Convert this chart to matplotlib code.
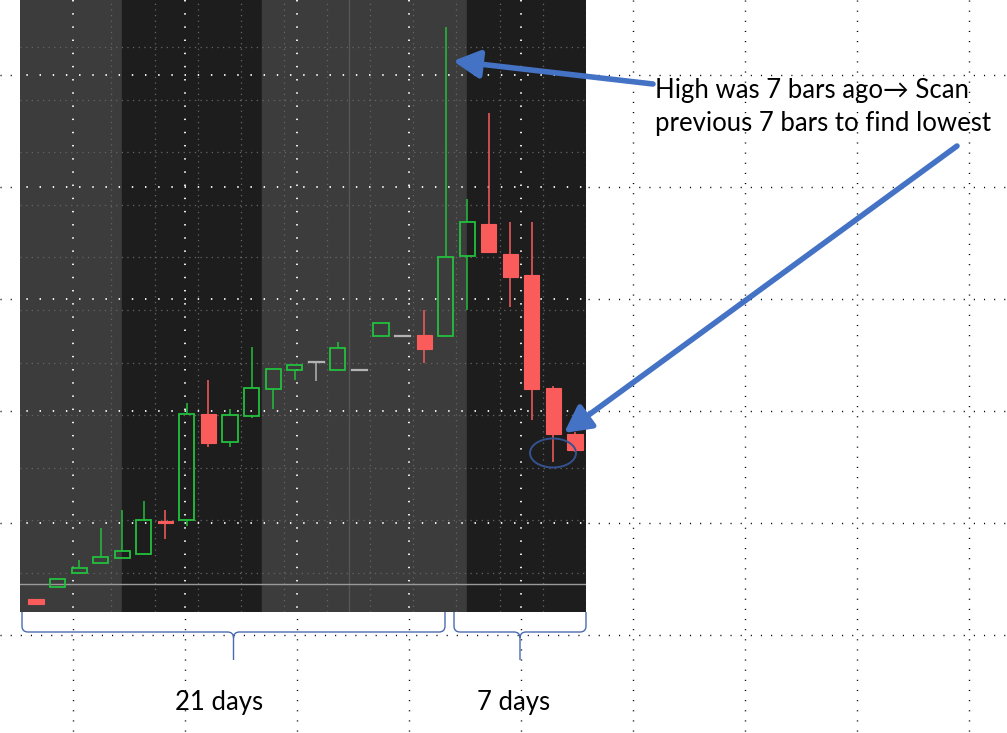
import numpy as np
import matplotlib.pyplot as plt
from matplotlib.patches import Rectangle, Ellipse, PathPatch
from matplotlib.path import Path

# candle data (price units), one bar per day
opens  = [2.05, 2.65, 3.35, 3.85, 4.10, 4.30, 5.95, 6.00, 11.30, 9.90, 11.20, 12.55, 13.50,
          13.90, 13.50, 13.50, 15.20, 15.20, 15.25, 15.20, 19.20, 20.80, 19.30, 18.25, 12.60, 10.30]
highs  = [2.05, 3.05, 4.00, 5.60, 6.50, 6.95, 6.50, 11.85, 13.00, 11.55, 14.65, 13.55, 13.75,
          13.90, 14.90, 13.50, 15.85, 15.20, 16.50, 30.65, 22.05, 26.35, 20.90, 20.90, 12.70, 10.40]
lows   = [1.80, 2.65, 3.35, 3.85, 4.10, 4.30, 5.05, 5.70, 9.65, 9.65, 11.10, 11.55, 13.00,
          12.95, 13.50, 13.50, 15.20, 15.20, 13.85, 15.20, 16.50, 19.40, 16.65, 11.00, 8.90, 9.40]
closes = [1.80, 3.05, 3.60, 4.15, 4.45, 6.00, 5.85, 11.30, 9.85, 11.25, 12.60, 13.55, 13.75,
          13.90, 14.60, 13.50, 15.85, 15.20, 14.55, 19.15, 20.90, 19.40, 18.15, 12.55, 10.30, 9.50]

# shaded time sessions (bar index boundaries) and their shades
band_edges = [-0.75, 4.0, 10.5, 20.0, 25.55]
band_colors = ['#3c3c3c', '#1d1d1d', '#3c3c3c', '#1d1d1d']

W, H = 1007, 733
fig = plt.figure(figsize=(W / 100, H / 100), dpi=100)
fig.patch.set_facecolor('white')
plt.rcParams['font.family'] = ['Lato', 'DejaVu Sans']

# background layer: slide dotted grid
bg = fig.add_axes([0, 0, 1, 1], zorder=0)
bg.set_xlim(0, W)
bg.set_ylim(H, 0)
bg.axis('off')
grid_x = np.arange(73, W, 112)
grid_y = np.arange(75, H, 112)
dots = (0, (0.8, 6.5))
for gx in grid_x:
    bg.plot([gx, gx], [0, H], color='black', lw=1.0, ls=dots)
for gy in grid_y:
    bg.plot([0, W], [gy, gy], color='black', lw=1.0, ls=dots)

# chart
ax = fig.add_axes([20 / W, (H - 612) / H, 566 / W, 612 / H], zorder=1)
ax.set_xlim(-0.742, 25.51)
ax.set_ylim(1.4, 32.0)
ax.axis('off')
for k in range(len(band_colors)):
    ax.axvspan(band_edges[k], band_edges[k + 1], color=band_colors[k], zorder=0)

for gy in np.arange(29.65, 1.5, -2.63):
    ax.axhline(gy, color='#666666', lw=0.9, ls=(0, (1, 3.5)), zorder=1)
for gx in np.arange(3.5, 25.6, 2):
    ax.axvline(gx, color='#666666', lw=0.9, ls=(0, (1, 3.5)), zorder=1)
ax.axvline(14.5, color='#555555', lw=1.0, zorder=1)
ax.axhline(2.8, color='#9a9a9a', lw=1.0, zorder=2)

# slide grid shows through the chart as light dots
for gx in grid_x:
    ax.plot([gx, gx], [0, H], color='white', lw=1.3, ls=dots, transform=bg.transData, zorder=1)
for gy in grid_y:
    ax.plot([0, W], [gy, gy], color='white', lw=1.3, ls=dots, transform=bg.transData, zorder=1)

up, down, flat = '#22c03c', '#fa5c5c', '#b4b4b4'
bw = 0.70
for i in range(len(opens)):
    o, h, l, c = opens[i], highs[i], lows[i], closes[i]
    top, bot = max(o, c), min(o, c)
    if c > o:
        col = up
    elif c < o:
        col = down
    else:
        col = flat
    if h > top:
        ax.plot([i, i], [top, h], color=col, lw=1.1, zorder=3, solid_capstyle='butt')
    if l < bot:
        ax.plot([i, i], [l, bot], color=col, lw=1.1, zorder=3, solid_capstyle='butt')
    if c > o:
        ax.add_patch(Rectangle((i - bw / 2, bot), bw, top - bot, facecolor='none',
                               edgecolor=col, lw=1.3, zorder=4))
    elif c < o:
        ax.add_patch(Rectangle((i - bw / 2, bot), bw, top - bot, facecolor=col,
                               edgecolor=col, lw=0.8, zorder=4))
    else:
        ax.plot([i - bw / 2, i + bw / 2], [o, o], color=col, lw=1.6, zorder=4)

# foreground annotations in pixel coordinates
fg = fig.add_axes([0, 0, 1, 1], zorder=2)
fg.set_xlim(0, W)
fg.set_ylim(H, 0)
fg.axis('off')
fg.patch.set_alpha(0)

blue = '#4472c4'
arrow = dict(arrowstyle='-|>,head_length=0.8,head_width=0.42', color=blue, lw=4.0,
             mutation_scale=20, shrinkA=0, shrinkB=0)
fg.annotate('', xy=(453, 61), xytext=(653, 84), arrowprops=arrow)
fg.annotate('', xy=(564, 433), xytext=(957, 146), arrowprops=arrow)

fg.text(655, 98, 'High was 7 bars ago\u2192 Scan', fontsize=18.5, color='black', va='baseline')
fg.text(655, 131, 'previous 7 bars to find lowest', fontsize=18.5, color='black', va='baseline')

fg.add_patch(Ellipse((553, 453), 46, 29, facecolor='none', edgecolor='#34528f', lw=1.4))


def brace(x0, x1, y0=612, y1=632, y2=660, r=6):
    xc = (x0 + x1) / 2
    verts = [(x0, y0), (x0, y1 - r), (x0, y1), (x0 + r, y1), (xc - r, y1), (xc, y1), (xc, y1 + r), (xc, y2),
             (xc, y1 + r), (xc, y1), (xc + r, y1), (x1 - r, y1), (x1, y1), (x1, y1 - r), (x1, y0)]
    codes = [Path.MOVETO, Path.LINETO, Path.CURVE3, Path.CURVE3, Path.LINETO, Path.CURVE3, Path.CURVE3,
             Path.LINETO, Path.MOVETO, Path.CURVE3, Path.CURVE3, Path.LINETO, Path.CURVE3, Path.CURVE3,
             Path.LINETO]
    fg.add_patch(PathPatch(Path(verts, codes), facecolor='none', edgecolor='#4a6bb0', lw=1.0))


brace(22, 445)
brace(454, 586)
fg.text(219, 710, '21 days', fontsize=18.5, ha='center', va='baseline', color='black')
fg.text(514, 710, '7 days', fontsize=18.5, ha='center', va='baseline', color='black')

fig.savefig('out.png', dpi=100)
